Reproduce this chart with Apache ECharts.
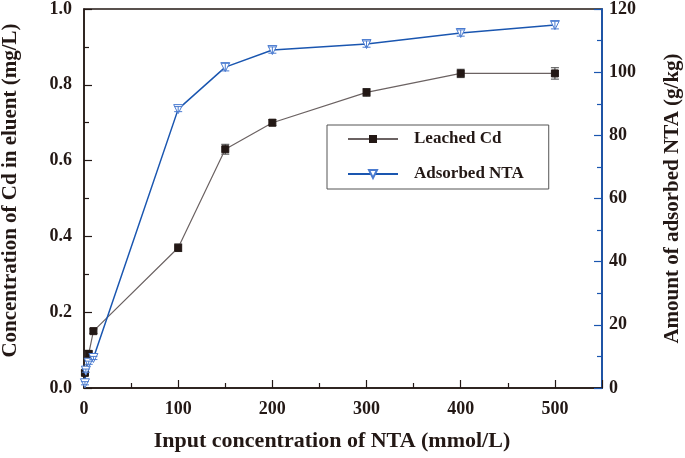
<!DOCTYPE html>
<html><head><meta charset="utf-8">
<script src="https://cdn.jsdelivr.net/npm/echarts@6/dist/echarts.min.js"></script>
<style>html,body{margin:0;padding:0;background:#fff}#c{width:685px;height:458px}</style>
</head><body><div id="c"></div>
<script>
const cdX = [1, 5, 10, 100, 150, 200, 300, 400, 500];
const cdY = [0.04, 0.09, 0.15, 0.37, 0.63, 0.70, 0.78, 0.83, 0.83];
const cdErr = [0.005, 0.008, 0.006, 0.01, 0.013, 0.008, 0.01, 0.011, 0.015];
const ntaX = [1, 2, 5, 10, 100, 150, 200, 300, 400, 500];
const ntaY = [1.5, 5.5, 8, 9.5, 88.3, 101.6, 107, 108.9, 112.4, 114.9];
const ntaErr = [0.5, 0.5, 0.5, 0.5, 0.8, 1.2, 1.0, 1.0, 1.0, 1.2];
const xTicks = [0, 100, 200, 300, 400, 500];

const font = 'Liberation Serif';
const pair = (xs, ys) => xs.map((x, i) => [x, ys[i]]);
const errData = (xs, ys, es) => xs.map((x, i) => [x, ys[i] - es[i], ys[i] + es[i]]);
function errRender(color) {
  return function (params, api) {
    const x = api.value(0);
    const lo = api.coord([x, api.value(1)]);
    const hi = api.coord([x, api.value(2)]);
    const w = 4;
    const st = { stroke: color, lineWidth: 1 };
    return { type: 'group', children: [
      { type: 'line', shape: { x1: lo[0], y1: lo[1], x2: hi[0], y2: hi[1] }, style: st },
      { type: 'line', shape: { x1: lo[0] - w, y1: lo[1], x2: lo[0] + w, y2: lo[1] }, style: st },
      { type: 'line', shape: { x1: hi[0] - w, y1: hi[1], x2: hi[0] + w, y2: hi[1] }, style: st }
    ]};
  };
}
const lbl = { fontFamily: font, fontWeight: 'bold', fontSize: 18, color: '#231815' };
const ttl = { fontFamily: font, fontWeight: 'bold', fontSize: 21, color: '#231815' };
const chart = echarts.init(document.getElementById('c'));
chart.setOption({
  animation: false,
  grid: { left: 84, right: 83, top: 9, bottom: 70, containLabel: false, outerBoundsMode: 'none',
    show: true, borderColor: '#231815', borderWidth: 1.5 },
  legend: {
    orient: 'vertical', left: 327, top: 125, padding: [4, 25, 5, 20], itemGap: 15,
    itemWidth: 50, itemHeight: 10,
    borderColor: '#555', borderWidth: 1,
    textStyle: { fontFamily: font, fontWeight: 'bold', fontSize: 17, lineHeight: 20, color: '#231815', padding: [0, 0, 0, 11] },
    data: ['Leached Cd', 'Adsorbed NTA']
  },
  xAxis: {
    type: 'value', min: 0, max: 550, interval: 100,
    name: 'Input concentration of NTA (mmol/L)', nameLocation: 'middle', nameGap: 42,
    nameTextStyle: Object.assign({}, ttl, { fontSize: 22, padding: [0, 22, 0, 0] }),
    axisLine: { lineStyle: { color: '#231815', width: 1.5 } },
    axisTick: { inside: true, length: 8, lineStyle: { color: '#231815', width: 1.2 } },
    minorTick: { show: true, splitNumber: 2, length: 5, lineStyle: { color: '#231815', width: 1.2 } },
    splitLine: { show: false },
    axisLabel: Object.assign({ margin: 12, showMaxLabel: false,
      formatter: v => xTicks.includes(v) ? String(v) : '' }, lbl)
  },
  yAxis: [{
    type: 'value', min: 0, max: 1, interval: 0.2, position: 'left',
    name: 'Concentration of Cd in eluent (mg/L)', nameLocation: 'middle', nameGap: 63,
    nameTextStyle: Object.assign({}, ttl, { padding: [0, 0, 0, 16] }),
    axisLine: { show: true, lineStyle: { color: '#231815', width: 1.5 } },
    axisTick: { inside: true, length: 8, lineStyle: { color: '#231815', width: 1.2 } },
    minorTick: { show: true, splitNumber: 2, length: 5, lineStyle: { color: '#231815', width: 1.2 } },
    splitLine: { show: false },
    axisLabel: Object.assign({ margin: 12, formatter: v => v.toFixed(1) }, lbl)
  }, {
    type: 'value', min: 0, max: 120, interval: 20, position: 'right',
    name: 'Amount of adsorbed NTA (g/kg)', nameLocation: 'middle', nameGap: 60, nameRotate: 90,
    nameTextStyle: ttl,
    axisLine: { show: true, lineStyle: { color: '#1a56b0', width: 1.8 } },
    axisTick: { inside: true, length: 8, lineStyle: { color: '#1a56b0', width: 1.2 } },
    minorTick: { show: true, splitNumber: 2, length: 5, lineStyle: { color: '#1a56b0', width: 1.2 } },
    splitLine: { show: false },
    axisLabel: Object.assign({ margin: 7 }, lbl)
  }],
  series: [{
    name: 'Leached Cd', type: 'line', yAxisIndex: 0, data: pair(cdX, cdY),
    symbol: 'rect', symbolSize: 7, z: 3,
    lineStyle: { color: '#6b6262', width: 1.2 },
    itemStyle: { color: '#231815', borderColor: '#231815' }
  }, {
    type: 'custom', yAxisIndex: 0, data: errData(cdX, cdY, cdErr), renderItem: errRender('#444'), z: 2,
    encode: { x: 0, y: [1, 2] }, silent: true
  }, {
    name: 'Adsorbed NTA', type: 'line', yAxisIndex: 1, data: pair(ntaX, ntaY),
    symbol: 'triangle', symbolRotate: 180, symbolSize: 9, z: 3,
    lineStyle: { color: '#1a56b0', width: 1.5 },
    itemStyle: { color: '#fff', borderColor: '#4a7bd0', borderWidth: 1 }
  }, {
    type: 'custom', yAxisIndex: 1, data: errData(ntaX, ntaY, ntaErr), renderItem: errRender('#4a7bd0'), z: 4,
    encode: { x: 0, y: [1, 2] }, silent: true
  }]
});
</script></body></html>
